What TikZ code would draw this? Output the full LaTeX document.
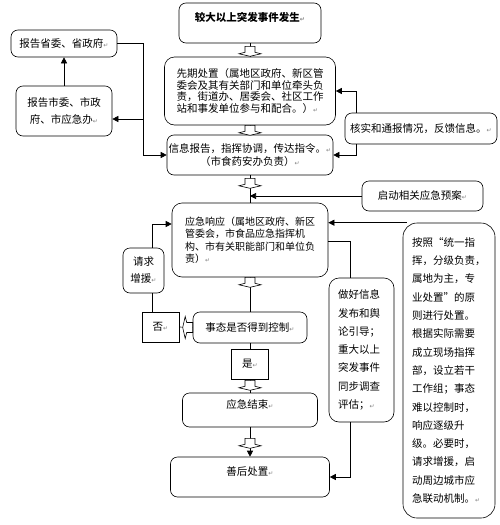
\documentclass[tikz,border=0pt]{standalone}
\usepackage{fontspec}
\setmainfont{Noto Sans CJK SC}
\newfontfamily\markfont{DejaVu Sans}
\usetikzlibrary{arrows.meta}
\newcommand\rmk{{\markfont\color{gray}\fontsize{6}{6}\selectfont ↵}}
\tikzset{
	box/.style={draw, rounded corners=7pt, line width=0.6pt, inner sep=0pt, align=center, font=\fontsize{10.5}{12}\selectfont},
	sqbox/.style={draw, line width=0.6pt, inner sep=0pt, font=\fontsize{10.5}{12}\selectfont},
	arr/.style={-{Triangle[length=6pt,width=6pt]}},
	openhead/.pic={\draw[fill=white, line width=0.6pt] (-5,0) -- (-5,6) -- (-11,7.5) -- (0,10) -- (11,7.5) -- (5,6) -- (5,0) -- cycle;}
}
\begin{document}
\begin{tikzpicture}[x=1pt, y=-1pt, line width=0.6pt]
		\useasboundingbox (0,0) rectangle (500,525);
		% columna central
		\node[box, minimum width=142pt, minimum height=40pt, font=\bfseries\fontsize{10.5}{12}\selectfont] (top) at (250,23) {较大以上突发事件发生\rmk\\\mbox{}};
		\node[box, rounded corners=10pt, minimum width=171pt, minimum height=68pt, text width=147pt, align=left, font=\fontsize{10.5}{11.5}\selectfont] (xianqi) at (250,91) {先期处置（属地区政府、新区管\\委会及其有关部门和单位牵头负\\责，街道办、居委会、社区工作\\站和事发单位参与和配合。）\rmk};
		\node[box, minimum width=166pt, minimum height=40pt, font=\fontsize{10.5}{13}\selectfont] (xinxi) at (250,155) {信息报告，指挥协调，传达指令。\rmk\\（市食药安办负责）\rmk};
		\node[box, rounded corners=10pt, minimum width=156pt, minimum height=74pt, text width=130pt, align=left, font=\fontsize{10}{12.5}\selectfont] (xiangying) at (250,240) {应急响应（属地区政府、新区\\管委会，市食品应急指挥机\\构、市有关职能部门和单位负\\责）\rmk};
		\node[box, minimum width=114pt, minimum height=31pt] (shitai) at (250,327.5) {事态是否得到控制\rmk};
		\node[sqbox, minimum width=37pt, minimum height=30pt] (shi) at (250,364) {是\rmk};
		\node[box, minimum width=135pt, minimum height=34pt] (jieshu) at (250,410) {应急结束\rmk\\\mbox{}};
		\node[box, minimum width=159pt, minimum height=40pt] (shanhou) at (250,477) {善后处置\rmk\\\mbox{}};
		% izquierda
		\node[box, minimum width=106pt, minimum height=27pt] (sheng) at (64,43.5) {报告省委、省政府\rmk};
		\node[box, minimum width=96pt, minimum height=50pt, font=\fontsize{10.5}{17}\selectfont] (shiwei) at (64,111) {报告市委、市政\\府、市应急办\rmk};
		\node[box, minimum width=41pt, minimum height=45pt, font=\fontsize{10.5}{17}\selectfont] (qingqiu) at (143.5,270.5) {请求\\增援\rmk};
		\node[sqbox, minimum width=37pt, minimum height=30pt] (fou) at (160.5,327) {否\rmk};
		% derecha
		\node[box, minimum width=152pt, minimum height=31pt] (heshi) at (421,128.5) {核实和通报情况，反馈信息。\rmk};
		\node[box, minimum width=121pt, minimum height=30pt] (qidong) at (422.5,196) {启动相关应急预案\rmk};
		\node[box, rounded corners=10pt, minimum width=65pt, minimum height=144pt, text width=47pt, align=left, font=\fontsize{10.5}{18.3}\selectfont] (zuohao) at (361.5,350) {做好信息\\发布和舆\\论引导；\\重大以上\\突发事件\\同步调查\\评估；\rmk};
		\node[box, rounded corners=14pt, minimum width=92pt, minimum height=295pt, text width=74pt, align=left, font=\fontsize{10.5}{18.3}\selectfont] (anzhao) at (449,370.5) {按照“统一指\\挥，分级负责，\\属地为主，专\\业处置”的原\\则进行处置。\\根据实际需要\\成立现场指挥\\部，设立若干\\工作组；事态\\难以控制时，\\响应逐级升\\级。必要时，\\请求增援，启\\动周边城市应\\急联动机制。\rmk};
		% conexiones
		\coordinate (bend) at (143,43.5);
		\coordinate (branch) at (143,119);
		\draw (top.south) -- (xianqi.north);
		\draw (xianqi.south) -- (xinxi.north);
		\draw (xinxi.south) -- (xiangying.north);
		\draw (xiangying.south) -- (shitai.north);
		\draw (shitai.south) -- (shi.north);
		\draw (shi.south) -- (jieshu.north);
		\draw[arr] (jieshu.south) -- (shanhou.north);
		\draw (shitai.west) -- (fou.east);
		\draw ([xshift=-8.5pt]fou.north) -- ([xshift=-8.5pt]fou.north |- qingqiu.south);
		\draw[arr] ([xshift=8.5pt]qingqiu.north) |- ([yshift=16pt]xiangying.west);
		\draw[arr] (shiwei.north) -- (sheng.south);
		\draw[arr] (sheng.east) -- (bend) |- (xinxi.west);
		\draw[arr] (branch) -- (branch -| shiwei.east);
		\draw[arr] ([xshift=12pt]heshi.north west) |- (xianqi.east);
		\draw[arr] ([xshift=12pt]heshi.south west) |- (xinxi.east);
		\draw[arr] (qidong.west) -- (qidong.west -| xinxi.south);
		\draw[arr] ([xshift=4pt]anzhao.north west) -- (xiangying.east |- anzhao.north);
		\draw ([yshift=-1pt]xiangying.east) -| ([xshift=-11.5pt]zuohao.north);
		\draw[arr] ([xshift=-11.5pt]zuohao.south) |- (shanhou.east);
		% flechas huecas
		\path (top.south) ++(0,3) pic {openhead};
		\path (xianqi.south) pic {openhead};
		\path (xinxi.south) ++(0,3) pic {openhead};
		\path (xiangying.south) pic {openhead};
		\path (shi.south) ++(0,1) pic {openhead};
		\path (jieshu.south) ++(0,11) pic {openhead};
		\path (shitai.west) pic[rotate=-90] {openhead};
\end{tikzpicture}
\end{document}
